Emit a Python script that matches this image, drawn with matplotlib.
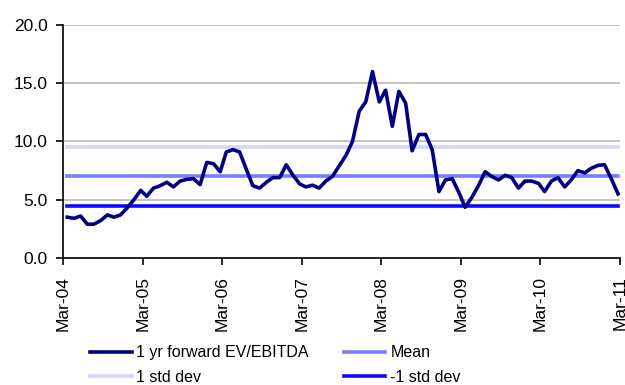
import numpy as np
import pandas as pd
import matplotlib
matplotlib.use('Agg')
from matplotlib import pyplot as plt

# monthly 1 yr forward EV/EBITDA, Mar-04 .. Feb-11
ev_ebitda = [3.5, 3.4, 3.6, 2.9, 2.9, 3.2, 3.7, 3.5, 3.7, 4.3,
             5.0, 5.8, 5.3, 6.0, 6.2, 6.5, 6.1, 6.6, 6.75, 6.8,
             6.3, 8.2, 8.1, 7.4, 9.1, 9.3, 9.1, 7.6, 6.2, 6.0,
             6.5, 6.9, 6.9, 8.0, 7.1, 6.35, 6.1, 6.25, 6.0, 6.6,
             7.0, 7.9, 8.8, 10.0, 12.6, 13.4, 16.0, 13.4, 14.4, 11.3,
             14.3, 13.3, 9.2, 10.6, 10.6, 9.3, 5.7, 6.7, 6.8, 5.6,
             4.35, 5.2, 6.2, 7.4, 7.0, 6.7, 7.1, 6.9, 6.0, 6.6,
             6.6, 6.4, 5.7, 6.6, 6.9, 6.1, 6.7, 7.5, 7.3, 7.7,
             7.95, 8.0, 6.8, 5.5]
mean_val = 7.0
plus_std = 9.5
minus_std = 4.5

dates = pd.date_range('2004-03-01', periods=len(ev_ebitda), freq='MS') + pd.Timedelta(days=19)
tick_dates = pd.date_range('2004-03-01', '2011-03-01', freq='12MS')
tick_labels = [d.strftime('%b-%y') for d in tick_dates]

plt.rcParams['font.family'] = ['Liberation Sans', 'DejaVu Sans']

fig = plt.figure(figsize=(6.25, 3.85), dpi=100)
ax = fig.add_axes([0.101, 0.330, 0.891, 0.605])

for y in [5, 10, 15, 20]:
  ax.axhline(y, color='#c0c0c0', lw=1.3, zorder=0)

l1, = ax.plot(dates, ev_ebitda, color='#000080', lw=2.6, label='1 yr forward EV/EBITDA', zorder=5)
l2, = ax.plot(dates, [mean_val] * len(dates), color='#7b7bff', lw=2.6, label='Mean', zorder=3)
l3, = ax.plot(dates, [plus_std] * len(dates), color='#d4d4ff', lw=2.6, label='1 std dev', zorder=3)
l4, = ax.plot(dates, [minus_std] * len(dates), color='#0a0aff', lw=2.6, label='-1 std dev', zorder=3)

ax.set_ylim(0, 20)
ax.set_yticks([0, 5, 10, 15, 20])
ax.set_yticklabels(['%.1f' % v for v in [0, 5, 10, 15, 20]], fontsize=12.5)
ax.set_xlim(tick_dates[0], tick_dates[-1])
ax.set_xticks(tick_dates)
ax.set_xticklabels(tick_labels, rotation=90, fontsize=12.5)
ax.tick_params(direction='out', length=5, width=1.2, color='black')
ax.tick_params(axis='x', pad=8)
ax.tick_params(axis='y', pad=6)

for s in ['top', 'right']:
  ax.spines[s].set_visible(False)
for s in ['left', 'bottom']:
  ax.spines[s].set_linewidth(1.2)

# row-major order: legend fills column by column
fig.legend(handles=[l1, l3, l2, l4], ncol=2, loc='upper left',
           bbox_to_anchor=(0.144, 0.103), frameon=False, fontsize=11.5,
           handlelength=2.6, handletextpad=0.3, columnspacing=2.2,
           labelspacing=0.6, borderpad=0, borderaxespad=0)

fig.savefig('out.png', dpi=100)
